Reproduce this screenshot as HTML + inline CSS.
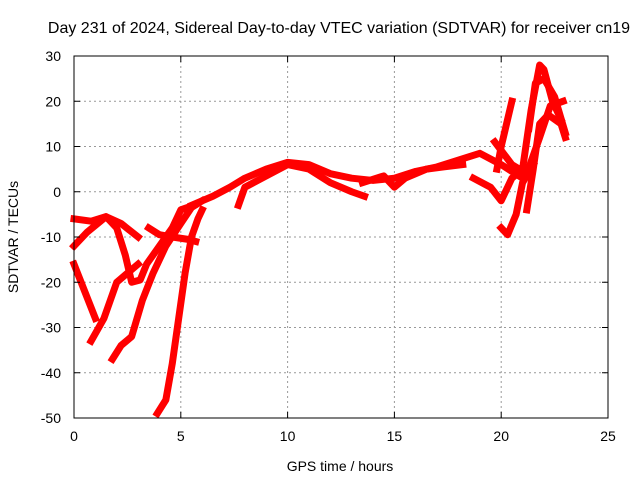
<!DOCTYPE html>
<html><head><meta charset="utf-8"><style>
body{margin:0;background:#fff;}
svg{display:block;font-family:"Liberation Sans",sans-serif;}
</style></head><body>
<svg id="c" width="640" height="480">
<text x="339" y="33" text-anchor="middle" font-size="16">Day 231 of 2024, Sidereal Day-to-day VTEC variation (SDTVAR) for receiver cn19</text>
<text x="340" y="471" text-anchor="middle" font-size="14">GPS time / hours</text>
<text transform="translate(18,237) rotate(-90)" text-anchor="middle" font-size="14">SDTVAR / TECUs</text>
<g id="grid"></g><g id="marks"></g><g id="axes"></g>
</svg>
<script>
const xTicks=[0,5,10,15,20,25];
const yTicks=[30,20,10,0,-10,-20,-30,-40,-50];
const trackA=[[0,-6],[0.8,-6.5],[1.5,-5.5],[2.2,-7],[3,-10]];
const trackB=[[0,-12],[0.6,-9],[1.5,-5.5],[2,-8],[2.4,-14],[2.7,-20],[3.1,-19.5],[3.4,-16],[4,-12],[4.6,-8],[5,-4],[5.6,-3]];
const trackC=[[0,-16],[0.5,-22],[1,-28]];
const trackD=[[0.8,-33],[1.4,-28],[2,-20],[2.5,-18],[3,-16]];
const trackE=[[1.8,-37],[2.2,-34],[2.7,-32],[3.2,-24],[3.7,-18],[4.3,-12],[5,-7],[5.5,-3.5],[6,-2]];
const trackF=[[3.5,-8],[4,-9.5],[4.6,-10],[5.3,-10.5],[5.7,-11]];
const trackG=[[3.9,-49],[4.3,-46],[4.6,-38],[4.9,-28],[5.2,-18],[5.5,-10],[5.8,-6],[6,-4]];
const trackH=[[5.5,-3],[6.5,-1],[7.3,1],[8,3],[9,5],[10,6.5],[11,6],[12,4],[13,3],[14,2.5],[15,3],[16,4.5],[17,5.5],[18,7],[19,8.5],[20,6],[21,3]];
const trackI=[[7.7,-3],[8,1],[9,3.5],[10,6],[11,5],[12,2],[13,0],[13.6,-1]];
const trackJ=[[13.5,2],[14.5,3.5],[15,1],[15.5,3],[16.5,5],[17.3,5.5],[18.2,6]];
const trackK=[[18.7,3],[19.5,1],[20,-2],[20.5,3],[21,5],[21.4,18],[21.8,28],[22,27],[22.4,20],[22.8,16]];
const trackL=[[19.8,5],[20,10],[20.3,16],[20.5,20]];
const trackM=[[20,-8],[20.3,-9.5],[20.7,-5],[21,2],[21.5,6]];
const trackN=[[21.2,-4],[21.5,5],[21.8,15],[22.2,17],[22.8,15],[23,12]];
const trackO=[[19.7,11],[20.5,6],[21.2,4],[21.8,12],[22.3,19],[22.9,20]];
const trackP=[[21.3,14],[21.6,24],[22,25],[22.5,21],[23,13]];
const tracks=[trackA,trackB,trackC,trackD,trackE,trackF,trackG,trackH,trackI,trackJ,trackK,trackL,trackM,trackN,trackO,trackP];
const L=74,R=608,T=56,B=418;
const xs=v=>L+(v-0)/25*(R-L);
const ys=v=>B-(v+50)/80*(B-T);
const NS='http://www.w3.org/2000/svg';
const mk=(t,a,p)=>{const e=document.createElementNS(NS,t);for(const k in a)e.setAttribute(k,a[k]);p.appendChild(e);return e;};
const grid=document.getElementById('grid'),axes=document.getElementById('axes'),marks=document.getElementById('marks');
xTicks.forEach(t=>{
 if(t>0&&t<25){const g=mk('line',{x1:xs(t),x2:xs(t),y1:T,y2:B,stroke:'#999','stroke-dasharray':'2,3'},grid);
 
 }
 mk('line',{x1:xs(t),x2:xs(t),y1:B,y2:B-6,stroke:'#000'},axes);
 mk('line',{x1:xs(t),x2:xs(t),y1:T,y2:T+6,stroke:'#000'},axes);
 const tx=mk('text',{x:xs(t),y:B+23,'text-anchor':'middle','font-size':14},axes);
 tx.textContent=t;
 
 
});
yTicks.forEach(t=>{
 if(t>-50&&t<30){const g=mk('line',{x1:L,x2:R,y1:ys(t),y2:ys(t),stroke:'#999','stroke-dasharray':'2,3'},grid);
 
 }
 mk('line',{x1:L,x2:L+6,y1:ys(t),y2:ys(t),stroke:'#000'},axes);
 mk('line',{x1:R,x2:R-6,y1:ys(t),y2:ys(t),stroke:'#000'},axes);
 const tx=mk('text',{x:L-13,y:ys(t)+5,'text-anchor':'end','font-size':14},axes);
 tx.textContent=t;
 
 
});
const fr=mk('rect',{x:L,y:T,width:R-L,height:B-T,fill:'none',stroke:'#000'},axes);


tracks.forEach(tr=>{
 const p=mk('polyline',{points:tr.map(d=>xs(d[0])+','+ys(d[1])).join(' '),fill:'none',stroke:'#f00','stroke-width':7,'stroke-linejoin':'round','stroke-linecap':'square'},marks);
 
 
});
</script>
</body></html>
